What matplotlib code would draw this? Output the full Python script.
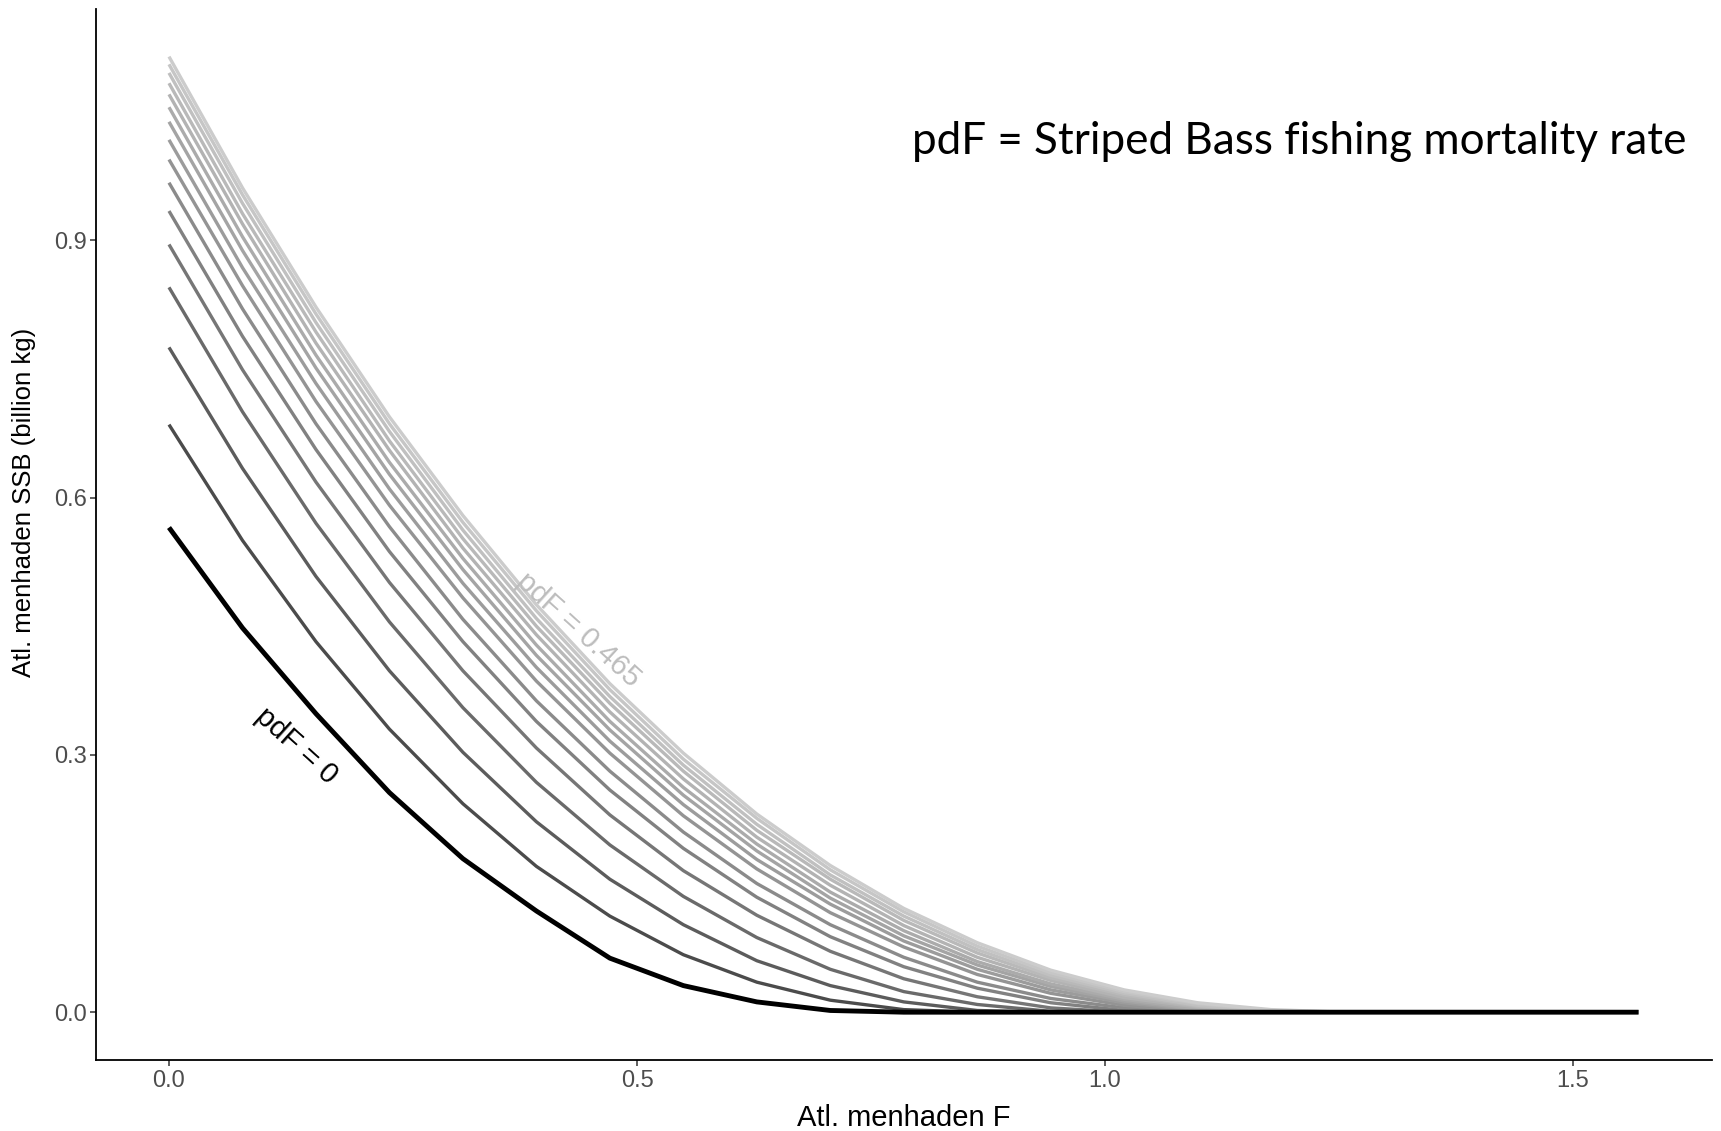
import numpy as np
import matplotlib
matplotlib.use("Agg")
import matplotlib.pyplot as plt

# Atl. menhaden F (x)
f_menhaden = [0.0, 0.0785, 0.157, 0.2355, 0.314, 0.3925, 0.471, 0.5495, 0.628, 0.7065, 0.785,
              0.8635, 0.942, 1.0205, 1.099, 1.1775, 1.256, 1.3345, 1.413, 1.4915, 1.57]

# striped bass fishing mortality (pdF) for each curve
pdf_levels = [0.0, 0.031, 0.062, 0.093, 0.124, 0.155, 0.186, 0.217, 0.248, 0.279, 0.31,
              0.341, 0.372, 0.403, 0.434, 0.465]

# menhaden SSB (billion kg)
ssb_000 = [0.565, 0.448, 0.348, 0.256, 0.179, 0.118, 0.063, 0.031, 0.012, 0.002, 0, 0, 0, 0, 0, 0, 0, 0, 0, 0, 0]
ssb_031 = [0.685, 0.550, 0.432, 0.330, 0.243, 0.170, 0.112, 0.067, 0.035, 0.014, 0.003, 0, 0, 0, 0, 0, 0, 0, 0, 0, 0]
ssb_062 = [0.775, 0.634, 0.508, 0.398, 0.303, 0.222, 0.155, 0.102, 0.060, 0.031, 0.012, 0.002, 0, 0, 0, 0, 0, 0, 0, 0, 0]
ssb_093 = [0.845, 0.700, 0.570, 0.455, 0.355, 0.268, 0.195, 0.135, 0.087, 0.050, 0.024, 0.009, 0.001, 0, 0, 0, 0, 0, 0, 0, 0]
ssb_124 = [0.895, 0.749, 0.618, 0.501, 0.398, 0.308, 0.230, 0.165, 0.113, 0.071, 0.039, 0.018, 0.005, 0, 0, 0, 0, 0, 0, 0, 0]
ssb_155 = [0.934, 0.788, 0.656, 0.537, 0.432, 0.339, 0.259, 0.191, 0.134, 0.088, 0.053, 0.028, 0.011, 0.002, 0, 0, 0, 0, 0, 0, 0]
ssb_186 = [0.967, 0.820, 0.686, 0.566, 0.458, 0.363, 0.281, 0.210, 0.150, 0.102, 0.064, 0.035, 0.016, 0.005, 0, 0, 0, 0, 0, 0, 0]
ssb_217 = [0.994, 0.847, 0.712, 0.591, 0.483, 0.386, 0.302, 0.229, 0.167, 0.116, 0.076, 0.044, 0.022, 0.008, 0.001, 0, 0, 0, 0, 0, 0]
ssb_248 = [1.017, 0.868, 0.733, 0.610, 0.500, 0.402, 0.316, 0.242, 0.178, 0.126, 0.083, 0.050, 0.026, 0.011, 0.002, 0, 0, 0, 0, 0, 0]
ssb_279 = [1.038, 0.888, 0.751, 0.627, 0.516, 0.416, 0.329, 0.253, 0.188, 0.133, 0.089, 0.055, 0.030, 0.013, 0.003, 0, 0, 0, 0, 0, 0]
ssb_310 = [1.055, 0.904, 0.766, 0.641, 0.529, 0.428, 0.339, 0.262, 0.196, 0.140, 0.095, 0.059, 0.033, 0.015, 0.004, 0, 0, 0, 0, 0, 0]
ssb_341 = [1.070, 0.919, 0.780, 0.655, 0.541, 0.440, 0.350, 0.272, 0.204, 0.148, 0.101, 0.064, 0.037, 0.017, 0.006, 0.001, 0, 0, 0, 0, 0]
ssb_372 = [1.083, 0.931, 0.793, 0.666, 0.552, 0.450, 0.360, 0.281, 0.212, 0.155, 0.107, 0.069, 0.040, 0.020, 0.007, 0.001, 0, 0, 0, 0, 0]
ssb_403 = [1.095, 0.943, 0.804, 0.677, 0.562, 0.459, 0.368, 0.288, 0.219, 0.160, 0.112, 0.073, 0.043, 0.022, 0.008, 0.001, 0, 0, 0, 0, 0]
ssb_434 = [1.105, 0.953, 0.814, 0.686, 0.571, 0.468, 0.376, 0.295, 0.226, 0.166, 0.117, 0.077, 0.046, 0.024, 0.010, 0.002, 0, 0, 0, 0, 0]
ssb_465 = [1.114, 0.961, 0.822, 0.694, 0.579, 0.475, 0.383, 0.302, 0.231, 0.171, 0.121, 0.081, 0.049, 0.026, 0.011, 0.003, 0, 0, 0, 0, 0]

curves = [ssb_000, ssb_031, ssb_062, ssb_093, ssb_124, ssb_155, ssb_186, ssb_217,
          ssb_248, ssb_279, ssb_310, ssb_341, ssb_372, ssb_403, ssb_434, ssb_465]

x_ticks = [0.0, 0.5, 1.0, 1.5]
y_ticks = [0.0, 0.3, 0.6, 0.9]

fig = plt.figure(figsize=(17.21, 11.31), dpi=100)
ax = fig.add_axes([0.0555, 0.0628, 0.9393, 0.9294])

# grey ramp like scale_colour_grey (start .2, end .8, gamma 2.2)
n = len(curves)
lev = np.linspace(0.2 ** 2.2, 0.8 ** 2.2, n) ** (1 / 2.2)
for k in range(1, n):
    g = lev[k]
    ax.plot(f_menhaden, curves[k], color=(g, g, g), lw=2.4, solid_capstyle="butt", zorder=2)
ax.plot(f_menhaden, curves[0], color="black", lw=3.5, solid_capstyle="butt", zorder=3)

ax.text(0.136, 0.31, "pdF = %g" % pdf_levels[0], rotation=-42, ha="center", va="center",
        fontsize=21, family="Liberation Sans", color="black", rotation_mode="anchor")
ax.text(0.437, 0.446, "pdF = %g" % pdf_levels[-1], rotation=-42, ha="center", va="center",
        fontsize=21, family="Liberation Sans", color="#bdbdbd", rotation_mode="anchor")
ax.text(1.621, 1.015, "pdF = Striped Bass fishing mortality rate", ha="right", va="center",
        fontsize=31.7, family="Lato", color="black")

ax.set_xlim(-0.0785, 1.6485)
ax.set_ylim(-0.0557, 1.1697)
ax.set_xticks(x_ticks)
ax.set_yticks(y_ticks)
ax.set_xticklabels(["%.1f" % t for t in x_ticks], family="Liberation Sans", fontsize=17, color="#4d4d4d")
ax.set_yticklabels(["%.1f" % t for t in y_ticks], family="Liberation Sans", fontsize=17, color="#4d4d4d")
ax.tick_params(axis="both", length=4, width=1.1, color="#333333")
ax.tick_params(axis="x", pad=3)
ax.tick_params(axis="y", pad=2)

for s in ["top", "right"]:
    ax.spines[s].set_visible(False)
for s in ["left", "bottom"]:
    ax.spines[s].set_linewidth(1.3)
    ax.spines[s].set_color("black")

ax.set_xlabel("Atl. menhaden F", family="Liberation Sans", fontsize=21, labelpad=9)
ax.set_ylabel("Atl. menhaden SSB (billion kg)", family="Liberation Sans", fontsize=18.5)
ax.yaxis.set_label_coords(-0.0442, 0.53)
ax.yaxis.label.set_va("center")

fig.savefig("out.png", dpi=100)
